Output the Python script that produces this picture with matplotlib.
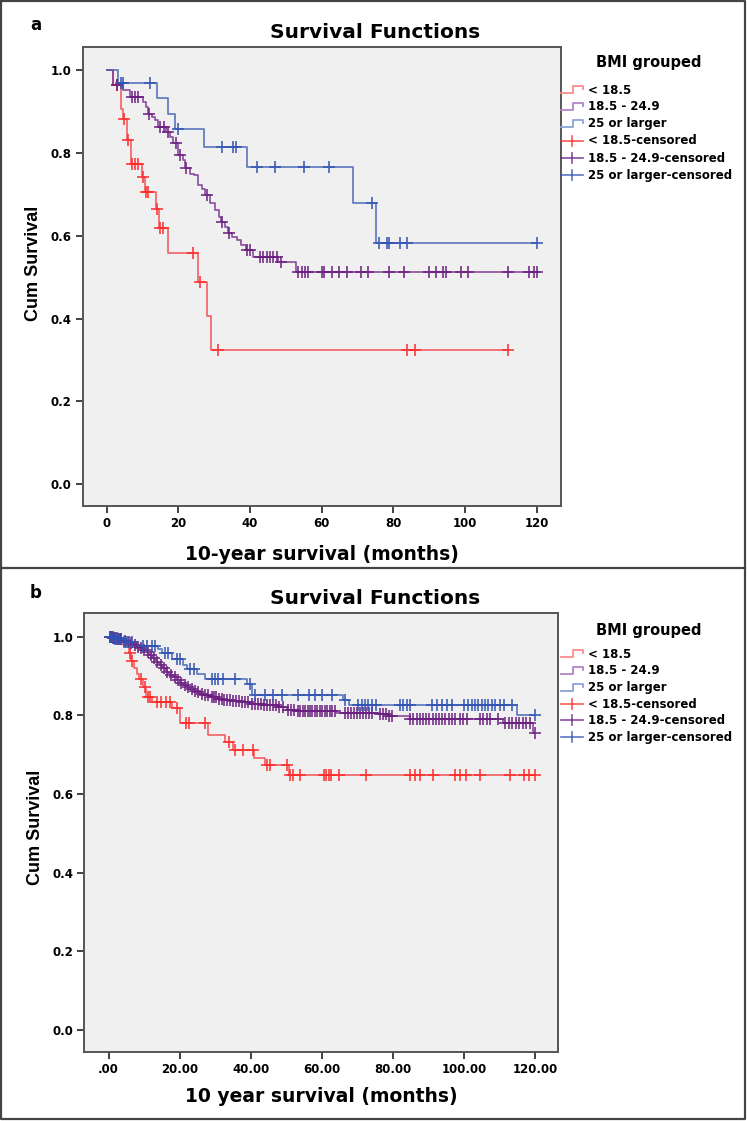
import numpy as np
import matplotlib

matplotlib.use("Agg")
import matplotlib.pyplot as plt
from matplotlib.lines import Line2D
from matplotlib.transforms import Affine2D

W, H = 747, 1121

GROUPS = ["< 18.5", "18.5 - 24.9", "25 or larger"]
LINE_COLORS = ["#f24f55", "#7e3a93", "#4a67b9"]
MARK_COLORS = ["#ff2b2b", "#6b1f80", "#3253b3"]
HANDLE_COLORS = ["#ff8a8a", "#b483c6", "#8ea2dc"]

# ---- panel a: 10-year survival (months) ----
A_LOW_T = [0, 1.8, 3.9, 4.6, 5.7, 6.8, 9.8, 10.8, 13.8, 14.7, 17.0, 25.6, 27.9, 29.0]
A_LOW_S = [1.0, 0.964, 0.907, 0.883, 0.831, 0.773, 0.741, 0.706, 0.664, 0.618, 0.558, 0.489, 0.406, 0.324]
A_LOW_C = [2.8, 4.9, 6.0, 7.0, 7.9, 8.8, 10.0, 11.0, 11.6, 14.0, 14.9, 15.6, 24.0, 25.9, 31.0,
           83.9, 86.0, 111.9]

A_MID_T = [0, 1.8, 4.6, 6.5, 10.0, 11.0, 11.6, 12.6, 13.4, 14.2, 16.5, 17.7, 18.6, 19.8, 21.2,
           21.8, 23.2, 24.5, 25.5, 26.5, 27.5, 28.8, 30.2, 31.2, 32.0, 33.0, 33.8, 34.9, 36.5,
           37.5, 38.8, 40.8, 47.8, 52.8]
A_MID_S = [1.0, 0.964, 0.953, 0.936, 0.923, 0.911, 0.895, 0.887, 0.879, 0.863, 0.851, 0.839,
           0.823, 0.795, 0.783, 0.763, 0.750, 0.746, 0.722, 0.714, 0.698, 0.678, 0.662, 0.646,
           0.634, 0.622, 0.606, 0.598, 0.589, 0.577, 0.565, 0.549, 0.537, 0.513]
A_MID_C = [2.8, 7.0, 7.9, 8.8, 11.9, 14.9, 16.0, 17.2, 19.3, 20.5, 22.0, 28.0, 32.1, 34.0, 39.1,
           40.0, 42.8, 43.7, 44.6, 45.6, 46.5, 47.4, 48.6, 53.5, 54.4, 55.4, 56.3, 60.0, 60.6,
           63.0, 64.8, 67.0, 71.0, 72.8, 78.9, 83.0, 90.0, 91.9, 93.9, 94.6, 98.9, 100.9, 111.9,
           117.9, 119.3, 120.0]

A_HIGH_T = [0, 3.07, 13.95, 17.0, 19.06, 27.2, 39.1, 68.8, 75.1]
A_HIGH_S = [1.0, 0.968, 0.932, 0.894, 0.857, 0.815, 0.765, 0.679, 0.583]
A_HIGH_C = [3.9, 4.6, 12.1, 20.0, 32.1, 35.2, 36.0, 42.0, 47.0, 55.0, 62.0, 74.0, 76.0, 78.1,
            78.9, 81.9, 83.9, 120.0]

# ---- panel b: 10 year survival (months) ----
B_LOW_T = [0, 2.0, 4.0, 5.8, 6.2, 7.2, 7.9, 8.6, 9.6, 10.5, 12.1, 17.8, 20.1, 28.1, 32.8, 34.9,
           40.8, 44.0, 50.9]
B_LOW_S = [1.0, 0.990, 0.979, 0.958, 0.937, 0.920, 0.906, 0.892, 0.871, 0.847, 0.835, 0.818,
           0.781, 0.750, 0.733, 0.712, 0.691, 0.674, 0.648]
B_LOW_C = [1.0, 6.0, 6.5, 9.0, 10.2, 11.0, 11.7, 13.5, 14.7, 16.2, 17.3, 19.3, 21.8, 22.7, 27.1,
           34.0, 35.6, 37.9, 40.6, 44.5, 45.5, 50.1, 51.1, 52.0, 53.9, 60.5, 61.2, 61.9, 62.6,
           64.8, 72.5, 84.7, 86.3, 87.7, 91.2, 97.5, 98.9, 100.5, 104.6, 113.0, 117.0, 118.4, 120.0]

B_MID_T = [0, 1.0, 2.5, 4.2, 5.0, 6.0, 7.0, 8.0, 9.0, 9.8, 10.7, 11.2, 11.7, 12.2, 12.6, 13.1,
           13.5, 14.0, 14.5, 15.0, 15.4, 15.9, 16.3, 16.8, 17.3, 18.2, 19.2, 20.1, 21.0, 22.0,
           22.9, 24.0, 24.8, 25.8, 26.7, 28.5, 30.4, 32.3, 34.5, 37.0, 39.8, 43.6, 47.3, 50.1,
           52.9, 64.0, 76.4, 78.8, 84.9, 111.1, 119.5]
B_MID_S = [1.0, 0.997, 0.993, 0.990, 0.987, 0.983, 0.979, 0.974, 0.970, 0.966, 0.962, 0.957,
           0.953, 0.949, 0.945, 0.940, 0.936, 0.932, 0.928, 0.924, 0.920, 0.915, 0.911, 0.907,
           0.903, 0.897, 0.890, 0.883, 0.877, 0.871, 0.866, 0.862, 0.858, 0.854, 0.851, 0.846,
           0.841, 0.839, 0.836, 0.833, 0.829, 0.826, 0.822, 0.814, 0.810, 0.807, 0.803, 0.797,
           0.790, 0.781, 0.754]
B_MID_C = [0.3, 0.7, 1.1, 1.5, 1.9, 2.3, 2.7, 3.1, 3.6, 4.6, 5.4, 6.4, 7.4, 8.4, 9.2, 10.1, 11.0,
           11.9, 12.8, 13.7, 14.7, 15.6, 16.5, 17.6, 18.6, 19.5, 20.5, 21.4, 22.4, 23.4, 24.3,
           25.3, 26.2, 27.2, 28.1, 29.0, 29.6, 30.2, 31.0, 31.8, 32.6, 33.4, 34.2, 35.0, 35.8,
           36.6, 37.5, 38.3, 39.2, 40.3, 41.2, 42.0, 42.8, 43.7, 44.5, 45.3, 46.2, 47.0, 48.0,
           49.0, 50.5, 51.3, 52.2, 53.2, 54.0, 54.6, 55.3, 56.0, 56.6, 57.3, 58.0, 58.7, 59.4,
           60.1, 60.8, 61.5, 62.2, 63.0, 63.8, 66.6, 67.4, 68.2, 69.0, 70.0, 70.8, 71.6, 72.4,
           73.3, 74.1, 76.4, 77.2, 78.0, 78.8, 79.7, 84.9, 85.8, 86.7, 87.6, 88.5, 89.4, 90.3,
           91.2, 92.1, 93.0, 93.9, 94.8, 95.7, 96.6, 97.4, 98.9, 99.8, 100.8, 104.6, 105.5,
           106.4, 107.4, 109.7, 111.6, 112.6, 113.6, 114.6, 115.6, 116.6, 117.6, 118.6, 120.0]

B_HIGH_T = [0, 1.5, 4.0, 7.9, 14.0, 14.9, 17.8, 21.0, 22.0, 24.8, 27.1, 38.9, 40.5, 65.9, 67.8,
            114.9]
B_HIGH_S = [1.0, 0.993, 0.986, 0.977, 0.968, 0.958, 0.942, 0.928, 0.918, 0.905, 0.892, 0.880,
            0.852, 0.839, 0.826, 0.801]
B_HIGH_C = [0.3, 0.8, 1.3, 1.8, 2.4, 3.0, 3.6, 4.3, 5.0, 5.8, 6.6, 9.8, 10.7, 12.1, 13.1, 15.9,
            16.8, 19.2, 20.1, 22.9, 23.9, 29.0, 29.9, 30.9, 32.3, 35.6, 39.8, 41.2, 44.0, 46.4,
            48.7, 53.4, 56.5, 58.0, 60.0, 63.0, 66.5, 70.3, 71.2, 72.2, 73.1, 74.1, 75.3, 82.0,
            83.0, 83.9, 84.9, 91.0, 92.3, 93.8, 95.2, 96.6, 99.9, 101.3, 102.2, 103.1, 104.1,
            105.0, 105.9, 106.9, 107.8, 108.8, 110.2, 111.3, 113.5, 120.0]

X_TICKS = [0, 20, 40, 60, 80, 100, 120]
A_XLABELS = ["0", "20", "40", "60", "80", "100", "120"]
B_XLABELS = [".00", "20.00", "40.00", "60.00", "80.00", "100.00", "120.00"]
Y_TICKS = [0.0, 0.2, 0.4, 0.6, 0.8, 1.0]
Y_LABELS = ["0.0", "0.2", "0.4", "0.6", "0.8", "1.0"]

WIDE = ["DejaVu Sans"]
NARROW = ["Liberation Sans", "DejaVu Sans"]
plt.rcParams["font.family"] = WIDE
plt.rcParams["font.weight"] = "bold"


def axes_rect(left, top, right, bottom):
    return [left / W, 1 - bottom / H, (right - left) / W, (bottom - top) / H]


def draw_group(ax, times, surv, censored, idx):
    times = np.asarray(times, float)
    surv = np.asarray(surv, float)
    cens = np.asarray(censored, float)
    end = max(times[-1], cens.max())
    ax.step(np.append(times, end), np.append(surv, surv[-1]), where="post",
            color=LINE_COLORS[idx], lw=1.2, alpha=0.9, zorder=2)
    at = surv[np.searchsorted(times, cens, side="right") - 1]
    ax.plot(cens, at, ls="none", marker="+", ms=8, mew=1.3,
            color=MARK_COLORS[idx], alpha=0.85, zorder=3)


def style_axes(ax, xlim, ylim, xlabels):
    ax.set_facecolor("#f0f0f0")
    ax.set_xlim(*xlim)
    ax.set_ylim(*ylim)
    ax.set_xticks(X_TICKS, xlabels)
    ax.set_yticks(Y_TICKS, Y_LABELS)
    ax.tick_params(length=5, width=1.3, color="#333333", labelsize=8.5, pad=3)
    for lab in ax.get_xticklabels() + ax.get_yticklabels():
        lab.set_fontweight("bold")
    for sp in ax.spines.values():
        sp.set_color("#555555")
        sp.set_linewidth(1.4)


def draw_legend(fig, trans, top_y, ys):
    fig.text(649 / W, 1 - top_y / H, "BMI grouped", ha="center", va="center",
             fontsize=10.5, fontweight="bold")
    x0 = 561
    for i in range(3):
        y = ys[i]
        fig.add_artist(Line2D([x0, x0 + 12, x0 + 12, x0 + 22, x0 + 22],
                              [y + 3, y + 3, y - 4, y - 4, y - 1],
                              transform=trans, color=HANDLE_COLORS[i], lw=1.3))
        fig.text(588 / W, 1 - y / H, GROUPS[i], ha="left", va="center",
                 fontsize=8.5, fontweight="bold")
    for i in range(3):
        y = ys[i + 3]
        fig.add_artist(Line2D([x0, x0 + 22], [y, y], transform=trans,
                              color=MARK_COLORS[i], lw=1.2, alpha=0.8))
        fig.add_artist(Line2D([x0 + 11, x0 + 11], [y - 5, y + 5], transform=trans,
                              color=MARK_COLORS[i], lw=1.2, alpha=0.8))
        fig.text(588 / W, 1 - y / H, GROUPS[i] + "-censored", ha="left", va="center",
                 fontsize=8.5, fontweight="bold")


fig = plt.figure(figsize=(W / 100, H / 100), dpi=100)
trans = Affine2D().scale(1 / W, -1 / H).translate(0, 1) + fig.transFigure

# frames
fig.add_artist(Line2D([1, 745, 745, 1, 1], [1, 1, 1119, 1119, 1], transform=trans,
                      color="#444444", lw=1.6))
fig.add_artist(Line2D([1, 745], [568, 568], transform=trans, color="#444444", lw=1.6))

# panel a
ax_a = fig.add_axes(axes_rect(82.7, 47, 560.7, 506))
draw_group(ax_a, A_LOW_T, A_LOW_S, A_LOW_C, 0)
draw_group(ax_a, A_MID_T, A_MID_S, A_MID_C, 1)
draw_group(ax_a, A_HIGH_T, A_HIGH_S, A_HIGH_C, 2)
style_axes(ax_a, (-6.7, 126.7), (-0.053, 1.056), A_XLABELS)
fig.text(36 / W, 1 - 25 / H, "a", fontsize=12, fontweight="bold", ha="center", va="center")
fig.text(375 / W, 1 - 32 / H, "Survival Functions", fontsize=14.5, fontweight="bold",
         ha="center", va="center")
fig.text(33 / W, 1 - 263 / H, "Cum Survival", rotation=90, fontsize=13, fontweight="bold",
         ha="center", va="center", family=NARROW)
fig.text(322 / W, 1 - 554 / H, "10-year survival (months)", fontsize=13.5, fontweight="bold",
         ha="center", va="center")
draw_legend(fig, trans, 63, [90, 107, 124, 141, 158, 175])

# panel b
ax_b = fig.add_axes(axes_rect(84.3, 613, 558, 1051.7))
draw_group(ax_b, B_LOW_T, B_LOW_S, B_LOW_C, 0)
draw_group(ax_b, B_MID_T, B_MID_S, B_MID_C, 1)
draw_group(ax_b, B_HIGH_T, B_HIGH_S, B_HIGH_C, 2)
style_axes(ax_b, (-6.84, 126.5), (-0.055, 1.060), B_XLABELS)
fig.text(36 / W, 1 - 593 / H, "b", fontsize=12, fontweight="bold", ha="center", va="center")
fig.text(375 / W, 1 - 599 / H, "Survival Functions", fontsize=14.5, fontweight="bold",
         ha="center", va="center")
fig.text(35 / W, 1 - 827 / H, "Cum Survival", rotation=90, fontsize=13, fontweight="bold",
         ha="center", va="center", family=NARROW)
fig.text(321 / W, 1 - 1097 / H, "10 year survival (months)", fontsize=13.5, fontweight="bold",
         ha="center", va="center")
draw_legend(fig, trans, 631, [654, 671, 688, 704, 720, 737])

fig.savefig("out.png", dpi=100)
